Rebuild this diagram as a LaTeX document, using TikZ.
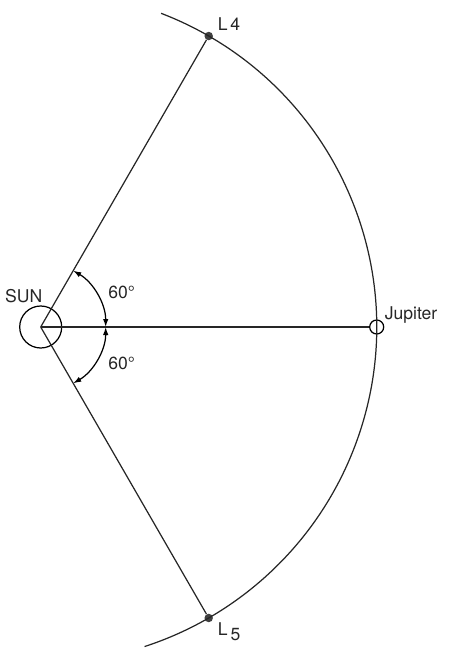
\documentclass[tikz,border=0pt]{standalone}
\usepackage{fontspec}
\setmainfont{TeX Gyre Heros}
\usepackage{tikz}
\usetikzlibrary{arrows.meta, positioning, calc}
\tikzset{
  orbitline/.style={
    line width=0.7pt, color=black!85
  },
  sunbody/.style={
    circle, draw, line width=0.7pt, minimum size=0.84cm, inner sep=0pt
  },
  planetbody/.style={
    circle, draw, line width=0.7pt, fill=white, minimum size=0.28cm, inner sep=0pt
  },
  lagrangedot/.style={
    circle, fill=black!75, minimum size=0.17cm, inner sep=0pt
  },
  anglearrow/.style={
    {Latex[length=1.6mm,width=1.1mm]}-{Latex[length=1.6mm,width=1.1mm]},
    line width=0.7pt
  },
  bodylabel/.style={
    font=\normalsize, text=black!85, inner sep=1pt
  },
}

\begin{document}
\begin{tikzpicture}
  \useasboundingbox (-0.814,-6.44) rectangle (8.346,6.54);

  % ── Sun and Jupiter ──
  \node[sunbody] (sun) at (0,0) {};
  \node[bodylabel] (sunlabel) at (-0.34,0.62) {SUN};
  \node[planetbody] (jupiter) at (6.72,0) {};
  \node[bodylabel, anchor=south west] (jupiterlabel)
    at ([xshift=0.12cm,yshift=0.04cm]jupiter.center) {Jupiter};

  % ── Lagrange points ──
  \node[lagrangedot] (l4) at (60:6.72) {};
  \node[lagrangedot] (l5) at (-60:6.72) {};
  \node[bodylabel, anchor=south west] (l4label)
    at ([xshift=0.14cm,yshift=0.06cm]l4.center) {L\,4};
  \node[bodylabel, anchor=north west] (l5label)
    at ([xshift=0.14cm,yshift=-0.06cm]l5.center) {L\,\raisebox{-0.5ex}{5}};

  % ── Orbit ──
  \draw[orbitline] ([shift={(69:6.72)}]sun.center)
    arc[start angle=69, end angle=-72, radius=6.72];

  % ── Radial lines ──
  \draw[orbitline] (sun.center) -- (l4);
  \draw[orbitline] (sun.center) -- (l5);
  \draw[orbitline] (sun.center) -- (jupiter);

  % ── 60 degree angles ──
  \draw[anglearrow] ([shift={(0:1.3)}]sun.center)
    arc[start angle=0, end angle=60, radius=1.3];
  \draw[anglearrow] ([shift={(0:1.3)}]sun.center)
    arc[start angle=0, end angle=-60, radius=1.3];
  \node[bodylabel] (angletop) at (1.62,0.7) {60\textdegree};
  \node[bodylabel] (anglebottom) at (1.62,-0.72) {60\textdegree};
\end{tikzpicture}
\end{document}
